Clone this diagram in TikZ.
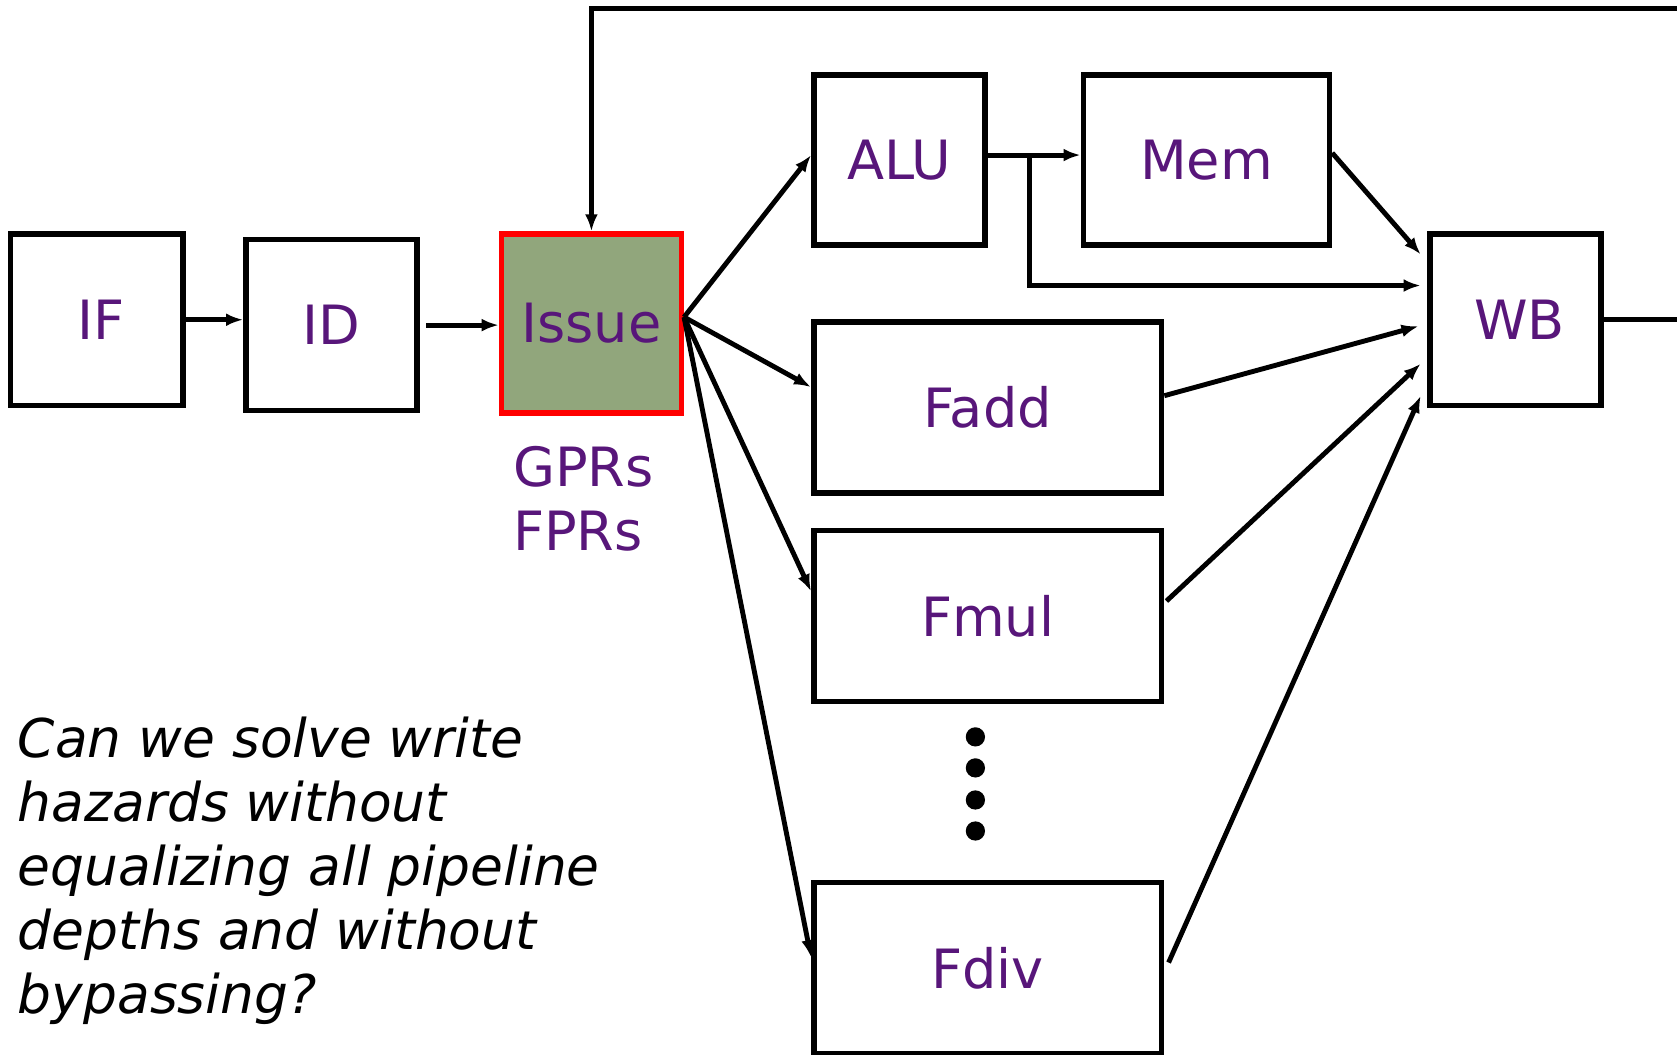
\documentclass[tikz,border=0pt]{standalone}
\usepackage{fontspec}
\setmainfont{DejaVu Sans}
\usetikzlibrary{arrows.meta}
\definecolor{labelpurple}{RGB}{88,22,122}
\definecolor{issuegreen}{RGB}{145,166,124}
\tikzset{
  stage/.style={rectangle,draw=black,line width=1.45pt,fill=white,text=labelpurple,font=\fontsize{14.4}{17}\selectfont,inner sep=0pt},
  link/.style={-{Latex[length=0.16cm,width=0.12cm]},line width=1.3pt},
  regs/.style={text=labelpurple,font=\fontsize{14.4}{16.8}\selectfont,align=left,inner sep=0pt}
}
\begin{document}
\begin{tikzpicture}[x=0.01cm,y=-0.01cm]
\clip (0,0) rectangle (1568,986);
\fill[white] (0,0) rectangle (1568,986);
% front end
\node[stage,minimum width=1.61cm,minimum height=1.6cm] (IF) at (90.5,299) {\hspace{0.08cm}IF};
\node[stage,minimum width=1.6cm,minimum height=1.6cm] (ID) at (310,304) {ID};
\node[stage,draw=red,fill=issuegreen,minimum width=1.68cm,minimum height=1.67cm] (Issue) at (553,302.5) {Issue};
\node[regs,anchor=north west] (RF) at (479,417) {GPRs\\FPRs};
% functional units
\node[stage,minimum width=1.6cm,minimum height=1.59cm] (ALU) at (841,149.5) {ALU};
\node[stage,minimum width=2.3cm,minimum height=1.59cm] (Mem) at (1128,149.5) {Mem};
\node[stage,minimum width=3.25cm,minimum height=1.6cm] (Fadd) at (923.5,381) {Fadd};
\node[stage,minimum width=3.25cm,minimum height=1.6cm] (Fmul) at (923.5,576) {Fmul};
\node[stage,minimum width=3.25cm,minimum height=1.6cm] (Fdiv) at (923.5,905) {Fdiv};
\node[stage,minimum width=1.6cm,minimum height=1.6cm] (WB) at (1417,299) {\hspace{0.08cm}WB};
\foreach \y in {689,718,748,777}
  \fill (912,\y) circle (0.09cm);

\draw[link] (IF.east) ++(0,-0.02) coordinate (a) -- (a -| ID.west);
\draw[link] ([xshift=0.06cm]ID.east) -- (ID.east -| Issue.west);

\coordinate (fan) at ([yshift=0.06cm]Issue.east);
\draw[link] (fan) -- ([yshift=0.045cm]ALU.west);
\draw[link] (fan) -- ([yshift=0.19cm]Fadd.west);
\draw[link] (fan) -- ([yshift=0.23cm]Fmul.west);
\draw[link] (fan) -- ([yshift=0.1cm]Fdiv.west);

\draw[link] ([yshift=0.045cm]ALU.east) -- ([yshift=0.045cm]Mem.west);
\coordinate (br) at ([xshift=0.39cm,yshift=0.045cm]ALU.east);
\draw[link] (br) |- ([xshift=-0.06cm,yshift=0.32cm]WB.west);
\draw[link] ([yshift=0.065cm]Mem.east) -- ([xshift=-0.06cm,yshift=0.61cm]WB.west);
\draw[link] ([yshift=0.11cm]Fadd.east) -- ([xshift=-0.08cm,yshift=-0.06cm]WB.west);
\draw[link] ([xshift=0.02cm,yshift=0.14cm]Fmul.east) -- ([xshift=-0.06cm,yshift=-0.41cm]WB.west);
\draw[link] ([xshift=0.04cm,yshift=0.05cm]Fdiv.east) -- ([xshift=-0.06cm,yshift=-0.71cm]WB.west);

% write-back loop
\coordinate (loop) at (1620,8);
\draw[link] (WB.east) -| (loop) -| (Issue.north);

\node[anchor=north west,align=left,inner sep=0pt,font=\fontsize{14.2}{17}\selectfont\itshape] (Q) at (16,670)
  {Can we solve write\\hazards without\\equalizing all pipeline\\depths and without\\bypassing?};
\end{tikzpicture}
\end{document}
